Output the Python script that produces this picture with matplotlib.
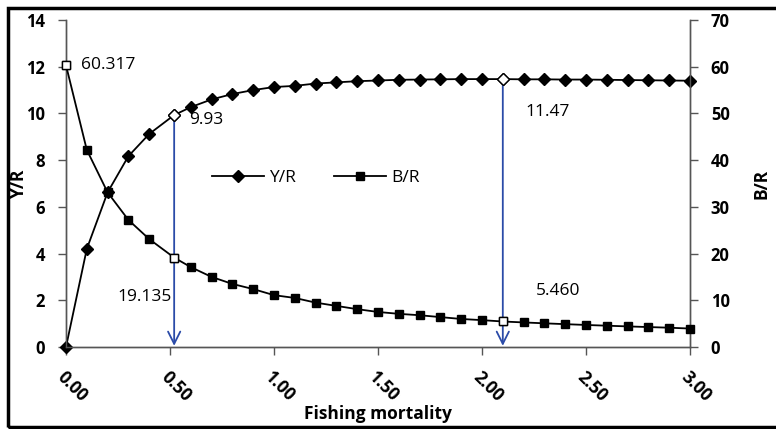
import matplotlib
matplotlib.use('Agg')
import matplotlib.pyplot as plt
from matplotlib.patches import Rectangle

plt.rcParams['font.family'] = ['Open Sans', 'DejaVu Sans']

# Fishing mortality (F) values
F = [0.0, 0.1, 0.2, 0.3, 0.4, 0.52, 0.6, 0.7, 0.8, 0.9, 1.0, 1.1, 1.2, 1.3, 1.4, 1.5,
     1.6, 1.7, 1.8, 1.9, 2.0, 2.1, 2.2, 2.3, 2.4, 2.5, 2.6, 2.7, 2.8, 2.9, 3.0]
# yield per recruit (left axis)
YR = [0.0, 4.2, 6.62, 8.17, 9.12, 9.93, 10.27, 10.6, 10.83, 11.0, 11.13, 11.18, 11.28,
      11.33, 11.38, 11.41, 11.44, 11.45, 11.46, 11.47, 11.47, 11.47, 11.46, 11.46, 11.45,
      11.45, 11.44, 11.43, 11.42, 11.41, 11.40]
# biomass per recruit (right axis)
BR = [60.317, 42.2, 33.1, 27.2, 23.1, 19.135, 17.1, 15.0, 13.5, 12.4, 11.1, 10.5, 9.5,
      8.8, 8.1, 7.5, 7.1, 6.8, 6.4, 6.0, 5.75, 5.46, 5.26, 5.07, 4.89, 4.72, 4.56, 4.41,
      4.27, 4.13, 3.95]

# points picked out (hollow markers, arrows, labels)
hl_idx = [5, 21]
yr_labels = ['9.93', '11.47']
br_labels = ['19.135', '5.460']
br_first_label = '60.317'

xticks = [0.0, 0.5, 1.0, 1.5, 2.0, 2.5, 3.0]
xticklabels = ['0.00', '0.50', '1.00', '1.50', '2.00', '2.50', '3.00']

fig = plt.figure(figsize=(7.76, 4.29), dpi=100)
ax = fig.add_axes([66/776, 82/429, 624/776, 327/429])
ax2 = ax.twinx()

ax.plot(F, YR, color='black', lw=1.3, marker='D', ms=6.5, mfc='black', mec='black',
        label='Y/R', zorder=3, clip_on=False)
ax2.plot(F, BR, color='black', lw=1.3, marker='s', ms=5.5, mfc='black', mec='black',
         label='B/R', zorder=3, clip_on=False)

# hollow markers
for i in hl_idx:
    ax.plot(F[i], YR[i], marker='D', ms=6.5, mfc='white', mec='black', mew=1, zorder=5)
    ax2.plot(F[i], BR[i], marker='s', ms=6, mfc='white', mec='black', mew=1, zorder=5)
ax2.plot(F[0], BR[0], marker='s', ms=6, mfc='white', mec='black', mew=1, zorder=5,
         clip_on=False)

# arrows from Y/R points down to the x axis
for i in hl_idx:
    ax.annotate('', xy=(F[i], 0.05), xytext=(F[i], YR[i] - 0.15),
                arrowprops=dict(arrowstyle='->', color='#2B4BA8', lw=1.3,
                                mutation_scale=22, shrinkA=0, shrinkB=0), zorder=4)

lab_kw = dict(fontsize=12.5, va='center')
ax.text(F[5] + 0.07, YR[5] - 0.2, yr_labels[0], ha='left', **lab_kw)
ax.text(F[21] + 0.11, YR[21] - 1.4, yr_labels[1], ha='left', **lab_kw)
ax2.text(F[0] + 0.07, BR[0], br_first_label, ha='left', **lab_kw)
ax2.text(F[5] - 0.01, BR[5] - 8.4, br_labels[0], ha='right', **lab_kw)
ax2.text(F[21] + 0.16, BR[21] + 6.5, br_labels[1], ha='left', **lab_kw)

ax.set_xlim(0, 3.0)
ax.set_ylim(0, 14)
ax2.set_ylim(0, 70)
ax.set_xticks(xticks)
ax.set_xticklabels(xticklabels, rotation=-45, ha='left', va='top', rotation_mode='anchor',
                   fontsize=12.5, fontweight='bold')
ax.set_yticks(range(0, 15, 2))
ax2.set_yticks(range(0, 71, 10))
for t in ax.get_yticklabels() + ax2.get_yticklabels():
    t.set_fontsize(12)
    t.set_fontweight('bold')
ax.tick_params(axis='x', direction='out', length=6, width=1, color='#555555', pad=9)
ax.tick_params(axis='y', direction='out', length=6, width=1, color='#555555', pad=9)
ax2.tick_params(axis='y', direction='out', length=6, width=1, color='#555555', pad=9)

for a in (ax, ax2):
    a.spines['top'].set_visible(False)
    for s in ('left', 'right', 'bottom'):
        a.spines[s].set_color('#555555')
        a.spines[s].set_linewidth(1)

ax.set_ylabel('Y/R', fontsize=12.5, fontweight='bold', labelpad=-1)
ax2.set_ylabel('B/R', fontsize=12.5, fontweight='bold', labelpad=16)
ax.set_xlabel('Fishing mortality', fontsize=12.5, fontweight='bold', labelpad=0)

h1, l1 = ax.get_legend_handles_labels()
h2, l2 = ax2.get_legend_handles_labels()
ax.legend(h1 + h2, l1 + l2, ncol=2, frameon=False, fontsize=12.5, loc='center',
          bbox_to_anchor=(0.40, 0.517), handlelength=3, columnspacing=2.2, handletextpad=0.3)

# outer border
fig.patches.append(Rectangle((8/776, 2/429), 1.0, 419/429, transform=fig.transFigure,
                             fill=False, edgecolor='black', lw=2.5, zorder=10))

fig.savefig('out.png', dpi=100)
